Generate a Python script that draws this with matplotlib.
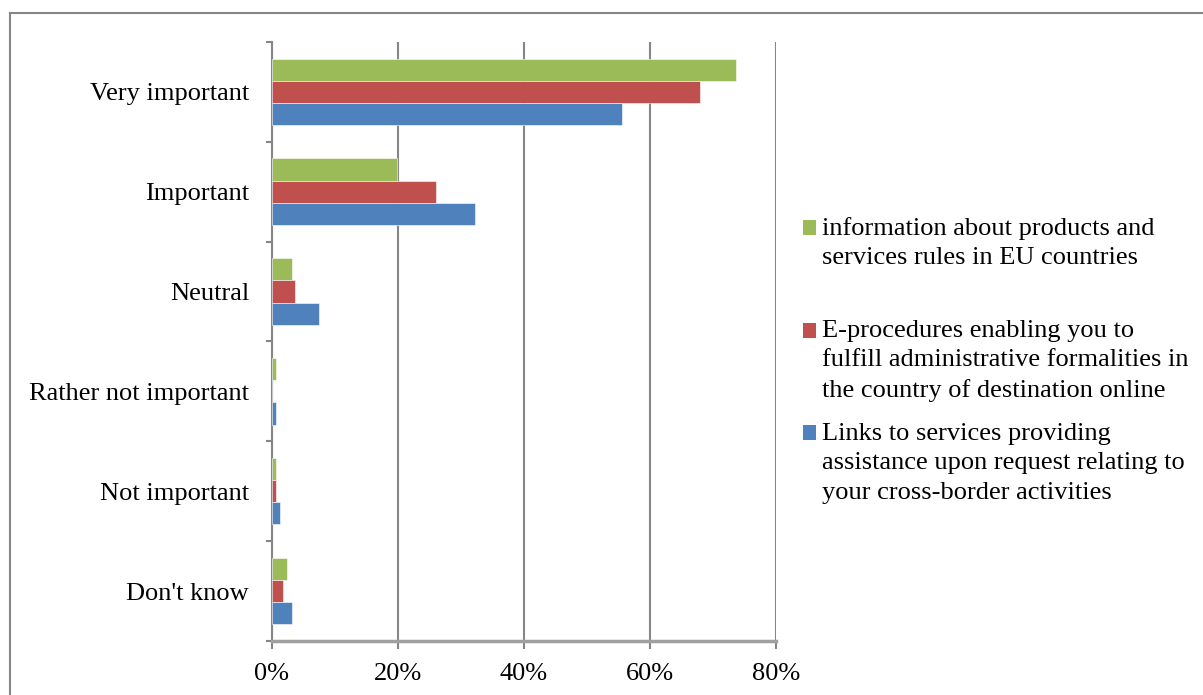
import numpy as np
import matplotlib
matplotlib.use("Agg")
import matplotlib.pyplot as plt
from matplotlib.lines import Line2D
from matplotlib.patches import Rectangle
from matplotlib.container import BarContainer
from matplotlib.legend_handler import HandlerPatch

plt.rcParams['font.family'] = ['Liberation Serif', 'DejaVu Serif']

categories = ["Very important", "Important", "Neutral",
              "Rather not important", "Not important", "Don't know"]
series_names = [
    "information about products and\nservices rules in EU countries",
    "E-procedures enabling you to\nfulfill administrative formalities in\nthe country of destination online",
    "Links to services providing\nassistance upon request relating to\nyour cross-border activities",
]
info_rules = [73.6, 19.8, 3.1, 0.6, 0.6, 2.4]
e_procedures = [67.9, 26.0, 3.7, 0.0, 0.6, 1.8]
links_services = [55.6, 32.2, 7.4, 0.6, 1.2, 3.1]
colors = ["#9BBB59", "#C0504D", "#4F81BD"]
xticks = [0, 20, 40, 60, 80]

FS = 19
LINESP = 1.44
LINE_PT = 21.6  # distance between text lines in points


def first_line_patch(legend, orig_handle, xdescent, ydescent, width, height, fontsize):
    # Excel puts the legend key next to the first line of a wrapped label
    nlines = orig_handle.get_label().count("\n") + 1
    shift = (nlines - 1) / 2 * LINE_PT
    return Rectangle((-xdescent, -ydescent + shift), width, height)


def from_first_bar(legend_handle, orig_handle):
    legend_handle.update_from(orig_handle.patches[0])
    legend_handle.set_edgecolor("none")


fig = plt.figure(figsize=(12.03, 6.95), dpi=100)
ax = fig.add_axes([0.2261, 0.0777, 0.4190, 0.8619])

n = len(categories)
y = np.arange(n)
h = 0.222
data = [info_rules, e_procedures, links_services]
bars = []
for i, (vals, col, name) in enumerate(zip(data, colors, series_names)):
    b = ax.barh(y + (i - 1) * h, vals, height=h, color=col, label=name,
                edgecolor="white", linewidth=0.4, zorder=3)
    bars.append(b)

ax.set_ylim(n - 0.5, -0.5)
ax.set_xlim(0, 80)
ax.set_xticks(xticks)
ax.set_xticklabels([f"{v}%" for v in xticks], fontsize=FS)
ax.set_yticks(y)
ax.set_yticklabels(categories, fontsize=FS)
ax.set_yticks(np.arange(n + 1) - 0.5, minor=True)
ax.tick_params(axis="y", which="major", length=0, pad=16.5)
ax.tick_params(axis="y", which="minor", length=4, color="#868686", width=1.5)
ax.tick_params(axis="x", length=6, color="#868686", width=1.5, pad=10)

ax.grid(axis="x", color="#868686", linewidth=1.5, zorder=0)
for s in ["top", "right"]:
    ax.spines[s].set_visible(False)
ax.spines["left"].set_color("#868686")
ax.spines["left"].set_linewidth(1.5)
ax.spines["bottom"].set_color("#a0a0a0")
ax.spines["bottom"].set_linewidth(2.5)

# one legend per entry so the uneven Excel spacing can be kept
legend_tops = [217, 320, 423]  # pixels from top
hmap = {BarContainer: HandlerPatch(patch_func=first_line_patch,
                                   update_func=from_first_bar)}
for b, name, top in zip(bars, series_names, legend_tops):
    leg = fig.legend([b], [name], loc="upper left",
                     bbox_to_anchor=(803 / 1203, 1 - top / 695),
                     bbox_transform=fig.transFigure, frameon=False,
                     fontsize=FS, borderpad=0, borderaxespad=0,
                     handlelength=0.49, handleheight=0.49,
                     handletextpad=0.23, handler_map=hmap)
    for t in leg.get_texts():
        t.set_linespacing(LINESP)

# outer chart frame
fig.add_artist(Line2D([10 / 1203, 10 / 1203], [0, 1 - 13 / 695],
                      transform=fig.transFigure, color="#868686", linewidth=1.5))
fig.add_artist(Line2D([10 / 1203, 1], [1 - 13 / 695, 1 - 13 / 695],
                      transform=fig.transFigure, color="#868686", linewidth=1.5))

fig.savefig("out.png", dpi=100)
